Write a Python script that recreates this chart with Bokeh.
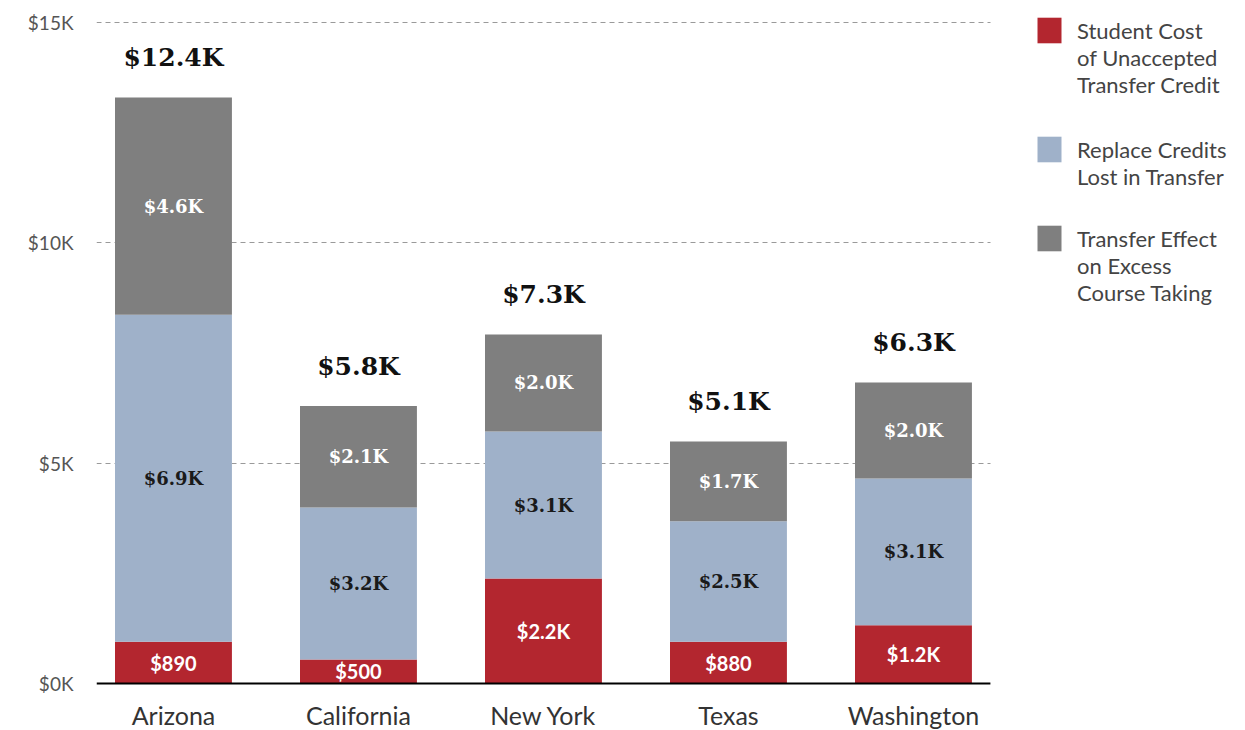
from bokeh.plotting import figure
from bokeh.models import ColumnDataSource, Range1d, FixedTicker, Legend, LegendItem, Grid
from bokeh.core.properties import value
from bokeh.embed import file_html
from bokeh.resources import INLINE

# ---- data (values in $K) ----
states = ["Arizona", "California", "New York", "Texas", "Washington"]
student_cost = [0.95, 0.545, 2.38, 0.95, 1.32]
replace_credits = [7.42, 3.45, 3.34, 2.73, 3.33]
excess_courses = [4.93, 2.30, 2.20, 1.81, 2.18]
student_labels = ["$890", "$500", "$2.2K", "$880", "$1.2K"]
replace_labels = ["$6.9K", "$3.2K", "$3.1K", "$2.5K", "$3.1K"]
excess_labels = ["$4.6K", "$2.1K", "$2.0K", "$1.7K", "$2.0K"]
total_labels = ["$12.4K", "$5.8K", "$7.3K", "$5.1K", "$6.3K"]
series_lines = [["Student Cost", "of Unaccepted", "Transfer Credit"],
                ["Replace Credits", "Lost in Transfer"],
                ["Transfer Effect", "on Excess", "Course Taking"]]
y_ticks = [0, 5, 10, 15]
y_tick_labels = ["$0K", "$5K", "$10K", "$15K"]

colors = ["#B3262F", "#9FB1C9", "#7F7F7F"]
sans = "Lato"
slab = "DejaVu Serif"

xs = list(range(len(states)))
s1_top = student_cost
s2_top = [a + b for a, b in zip(student_cost, replace_credits)]
s3_top = [a + b for a, b in zip(s2_top, excess_courses)]

src = ColumnDataSource(dict(
    x=xs, base=[0] * len(xs), name=states,
    student=student_cost, replace=replace_credits, excess=excess_courses,
    y1=[t / 2 for t in s1_top],
    y2=[(a + b) / 2 for a, b in zip(s1_top, s2_top)],
    y3=[(a + b) / 2 for a, b in zip(s2_top, s3_top)],
    ytot=s3_top,
    l1=student_labels, l2=replace_labels, l3=excess_labels, lt=total_labels,
))

# layout constants
W, H = 1245, 730
left_border, top_border = 96, 4
frame_w, frame_h = W - left_border, H - top_border
pad = 0.416
x_lo, x_hi = xs[0] - pad, xs[-1] + pad
px_per_x = 185.0
px_per_y = 44.067
y_lo = -47 / px_per_y
y_hi = y_lo + frame_h / px_per_y

p = figure(width=W, height=H, output_backend="svg", toolbar_location=None,
           x_range=Range1d(x_lo, x_lo + frame_w / px_per_x),
           y_range=Range1d(y_lo, y_hi),
           x_axis_location=None,
           min_border_left=left_border, min_border_right=0,
           min_border_top=top_border, min_border_bottom=0)
p.outline_line_color = None
p.background_fill_color = "white"
p.xgrid.grid_line_color = None
p.ygrid.grid_line_color = None

# dashed gridlines limited to the bar area
if "cross_bounds" in Grid.properties():
    g = Grid(dimension=1, ticker=FixedTicker(ticks=y_ticks[1:]),
             grid_line_color="#9a9a9a", grid_line_dash="5 4", grid_line_width=1,
             cross_bounds=(x_lo, x_hi))
    p.add_layout(g)
else:
    p.segment(x0=[x_lo] * 3, x1=[x_hi] * 3, y0=y_ticks[1:], y1=y_ticks[1:],
              line_color="#9a9a9a", line_dash="5 4", line_width=1)

renderers = p.vbar_stack(["student", "replace", "excess"], x="x", width=0.632,
                         color=colors, line_color=None, source=src)

# baseline
p.segment(x0=[x_lo], x1=[x_hi], y0=[y_ticks[0]], y1=[y_ticks[0]],
          line_color="black", line_width=2)

# segment labels
p.text(x="x", y="y1", text="l1", source=src, text_align="center",
       text_baseline="middle", text_color="white", text_font_size="20px",
       text_font_style="bold", text_font=value(sans))
p.text(x="x", y="y2", text="l2", source=src, text_align="center",
       text_baseline="middle", text_color="#1a1a1a", text_font_size="18px",
       text_font_style="bold", text_font=value(slab))
p.text(x="x", y="y3", text="l3", source=src, text_align="center",
       text_baseline="middle", text_color="white", text_font_size="18px",
       text_font_style="bold", text_font=value(slab))
p.text(x="x", y="ytot", text="lt", source=src, text_align="center",
       text_baseline="middle", y_offset=-40, text_color="#111111",
       text_font_size="25px", text_font_style="bold", text_font=value(slab))

# category labels under the baseline
p.text(x="x", y="base", text="name", source=src, text_align="center",
       text_baseline="middle", y_offset=31, text_color="#333333",
       text_font_size="25px", text_font=value(sans))

# y axis
p.yaxis.ticker = FixedTicker(ticks=y_ticks)
p.yaxis.major_label_overrides = {t: s for t, s in zip(y_ticks, y_tick_labels)}
p.yaxis.axis_line_color = None
p.yaxis.major_tick_line_color = None
p.yaxis.minor_tick_line_color = None
p.yaxis.major_tick_out = 0
p.yaxis.major_tick_in = 0
p.yaxis.major_label_text_font = sans
p.yaxis.major_label_text_font_size = "19px"
p.yaxis.major_label_text_color = "#555555"
p.yaxis.major_label_standoff = 23

# legend: one block per series, glyph aligned with the first text line
L = 27
tops = [16.5, 135.5, 224.5]  # y of first text line's slot top
for lines, r, top in zip(series_lines, renderers, tops):
    n = len(lines)
    label = "\n" * (n - 1) + "\n".join(lines)
    total_lines = 2 * n - 1
    leg_top = top - (n - 1) * L
    leg_bottom = leg_top + total_lines * L
    vy = H - leg_bottom
    leg = Legend(items=[LegendItem(label=label, renderers=[r])],
                 location=(938, vy))
    leg.glyph_width = 30
    leg.glyph_height = 32
    leg.label_standoff = 13
    leg.padding = 0
    leg.margin = 0
    leg.border_line_color = None
    leg.background_fill_alpha = 0
    leg.label_text_font = sans
    leg.label_text_font_size = "22px"
    leg.label_text_color = "#444444"
    leg.label_text_line_height = L / 22
    p.add_layout(leg)

open("out.html", "w").write(file_html(p, INLINE))
